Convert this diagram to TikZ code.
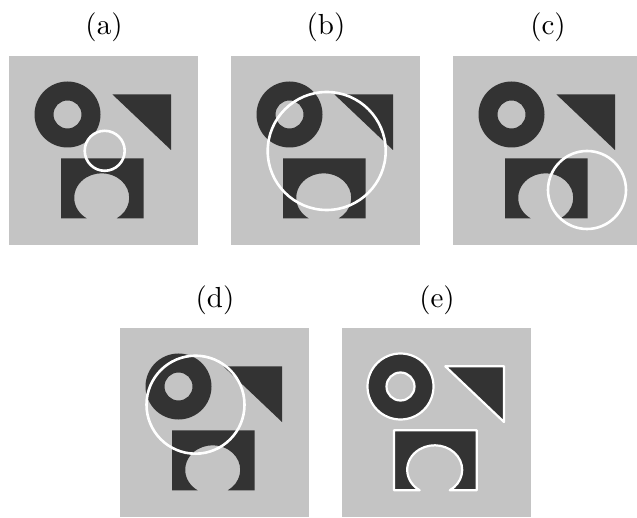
\documentclass[tikz,border=0pt]{standalone}
\usepackage{fontspec}
\newfontfamily\labfont{lmroman10-regular.otf}
\definecolor{bgc}{RGB}{196,196,196}
\definecolor{darkc}{RGB}{51,51,51}
\tikzset{
  panelbg/.style={fill=bgc},
  shapefill/.style={fill=darkc},
  probe/.style={draw=white, line width=2.6pt},
  contour/.style={draw=white, line width=2.2pt, line cap=round, line join=round},
  lab/.style={font=\labfont\fontsize{29}{34}\selectfont, anchor=base, inner sep=0pt}
}
\newcommand{\myscene}[1]{%
  \fill[panelbg] (0,0) rectangle (189,189);
  \path[shapefill,even odd rule,#1] (58.5,58.5) circle[radius=33] (58.5,58.5) circle[radius=14];
  \path[shapefill,#1] (103.3,38.3) -- (162,38.3) -- (162,94) -- cycle;
  \path[shapefill,#1] (52,162.3) -- (52,102.3) -- (134.7,102.3) -- (134.7,162.3) -- (107.76,162.3)
     arc[start angle=56.8, end angle=-236.8, x radius=27.5, y radius=24.5] -- cycle;
}
\begin{document}
\begin{tikzpicture}[x=1pt,y=-1pt]
\useasboundingbox (0,0) rectangle (637,518);
\clip (0,0) rectangle (637,518);
% (a)
\begin{scope}[shift={(9,56)}]
  \myscene{}
  \draw[probe] (95.7,94.8) circle[radius=20];
\end{scope}
% (b)
\begin{scope}[shift={(231,56)}]
  \myscene{}
  \draw[probe] (95.7,95) circle[radius=59];
\end{scope}
% (c)
\begin{scope}[shift={(453,56)}]
  \myscene{}
  \draw[probe] (134,134) circle[radius=39];
\end{scope}
% (d)
\begin{scope}[shift={(120,328)}]
  \myscene{}
  \draw[probe] (75.5,76.7) circle[radius=49];
\end{scope}
% (e)
\begin{scope}[shift={(342,328)}]
  \myscene{contour}
\end{scope}
\node[lab] (la) at (104,34.7) {(a)};
\node[lab] (lb) at (326,34.7) {(b)};
\node[lab] (lc) at (548,34.7) {(c)};
\node[lab] (ld) at (215,308) {(d)};
\node[lab] (le) at (437,308) {(e)};
\end{tikzpicture}
\end{document}
